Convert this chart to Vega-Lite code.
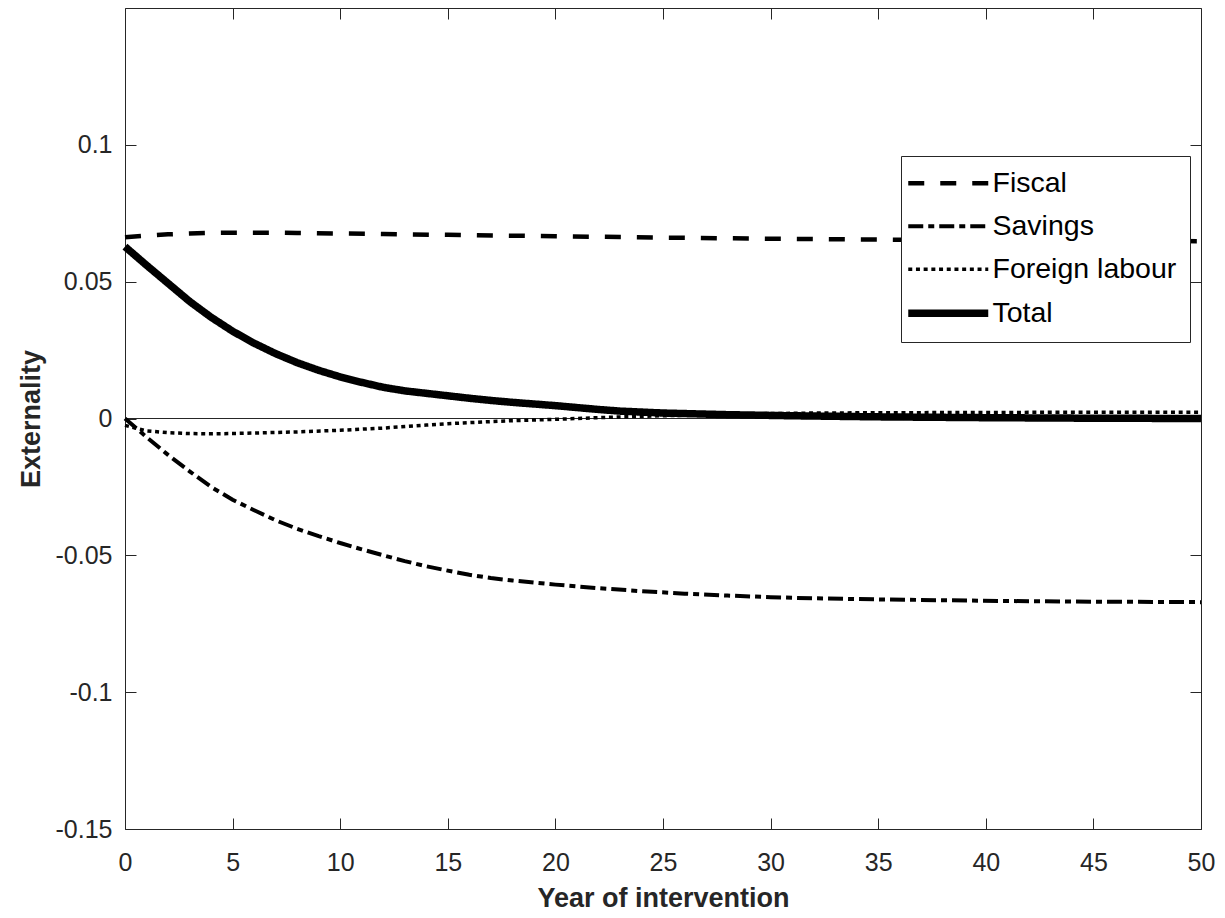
{
  "$schema": "https://vega.github.io/schema/vega-lite/v6.json",
  "width": 1076,
  "height": 821,
  "autosize": "none",
  "padding": {"left": 125, "top": 8, "right": 24, "bottom": 89},
  "background": "white",
  "config": {"view": {"stroke": null}, "font": "Liberation Sans"},
  "datasets": {
    "series": [
      {"year": 0, "value": 0.0662, "series": "Fiscal"},
      {"year": 1, "value": 0.0668, "series": "Fiscal"},
      {"year": 2, "value": 0.0673, "series": "Fiscal"},
      {"year": 3, "value": 0.0676, "series": "Fiscal"},
      {"year": 4, "value": 0.0678, "series": "Fiscal"},
      {"year": 5, "value": 0.0679, "series": "Fiscal"},
      {"year": 6, "value": 0.0679, "series": "Fiscal"},
      {"year": 7, "value": 0.0679, "series": "Fiscal"},
      {"year": 8, "value": 0.0678, "series": "Fiscal"},
      {"year": 10, "value": 0.0676, "series": "Fiscal"},
      {"year": 12, "value": 0.0674, "series": "Fiscal"},
      {"year": 15, "value": 0.0671, "series": "Fiscal"},
      {"year": 18, "value": 0.0668, "series": "Fiscal"},
      {"year": 20, "value": 0.0666, "series": "Fiscal"},
      {"year": 25, "value": 0.0661, "series": "Fiscal"},
      {"year": 30, "value": 0.0657, "series": "Fiscal"},
      {"year": 35, "value": 0.0654, "series": "Fiscal"},
      {"year": 40, "value": 0.0651, "series": "Fiscal"},
      {"year": 45, "value": 0.0649, "series": "Fiscal"},
      {"year": 50, "value": 0.0648, "series": "Fiscal"},
      {"year": 0, "value": 0.0, "series": "Savings"},
      {"year": 1, "value": -0.0068, "series": "Savings"},
      {"year": 2, "value": -0.0133, "series": "Savings"},
      {"year": 3, "value": -0.0193, "series": "Savings"},
      {"year": 4, "value": -0.025, "series": "Savings"},
      {"year": 5, "value": -0.0297, "series": "Savings"},
      {"year": 6, "value": -0.0335, "series": "Savings"},
      {"year": 7, "value": -0.0372, "series": "Savings"},
      {"year": 8, "value": -0.0403, "series": "Savings"},
      {"year": 9, "value": -0.043, "series": "Savings"},
      {"year": 10, "value": -0.0455, "series": "Savings"},
      {"year": 11, "value": -0.0478, "series": "Savings"},
      {"year": 12, "value": -0.05, "series": "Savings"},
      {"year": 13, "value": -0.0521, "series": "Savings"},
      {"year": 14, "value": -0.054, "series": "Savings"},
      {"year": 15, "value": -0.0556, "series": "Savings"},
      {"year": 16, "value": -0.0571, "series": "Savings"},
      {"year": 17, "value": -0.0583, "series": "Savings"},
      {"year": 18, "value": -0.0592, "series": "Savings"},
      {"year": 20, "value": -0.0607, "series": "Savings"},
      {"year": 22, "value": -0.062, "series": "Savings"},
      {"year": 24, "value": -0.0631, "series": "Savings"},
      {"year": 26, "value": -0.064, "series": "Savings"},
      {"year": 28, "value": -0.0647, "series": "Savings"},
      {"year": 30, "value": -0.0653, "series": "Savings"},
      {"year": 32, "value": -0.0657, "series": "Savings"},
      {"year": 35, "value": -0.0661, "series": "Savings"},
      {"year": 38, "value": -0.0664, "series": "Savings"},
      {"year": 41, "value": -0.0667, "series": "Savings"},
      {"year": 44, "value": -0.0669, "series": "Savings"},
      {"year": 47, "value": -0.067, "series": "Savings"},
      {"year": 50, "value": -0.0671, "series": "Savings"},
      {"year": 0, "value": -0.0025, "series": "Foreign labour"},
      {"year": 1, "value": -0.0045, "series": "Foreign labour"},
      {"year": 2, "value": -0.0052, "series": "Foreign labour"},
      {"year": 3, "value": -0.0055, "series": "Foreign labour"},
      {"year": 4, "value": -0.0056, "series": "Foreign labour"},
      {"year": 5, "value": -0.0055, "series": "Foreign labour"},
      {"year": 6, "value": -0.0053, "series": "Foreign labour"},
      {"year": 7, "value": -0.0051, "series": "Foreign labour"},
      {"year": 8, "value": -0.0049, "series": "Foreign labour"},
      {"year": 10, "value": -0.0043, "series": "Foreign labour"},
      {"year": 12, "value": -0.0035, "series": "Foreign labour"},
      {"year": 14, "value": -0.0024, "series": "Foreign labour"},
      {"year": 15, "value": -0.0019, "series": "Foreign labour"},
      {"year": 16, "value": -0.0015, "series": "Foreign labour"},
      {"year": 18, "value": -0.0008, "series": "Foreign labour"},
      {"year": 20, "value": -0.0003, "series": "Foreign labour"},
      {"year": 22, "value": 0.0003, "series": "Foreign labour"},
      {"year": 24, "value": 0.0008, "series": "Foreign labour"},
      {"year": 26, "value": 0.0012, "series": "Foreign labour"},
      {"year": 28, "value": 0.0016, "series": "Foreign labour"},
      {"year": 30, "value": 0.0018, "series": "Foreign labour"},
      {"year": 32, "value": 0.002, "series": "Foreign labour"},
      {"year": 35, "value": 0.0021, "series": "Foreign labour"},
      {"year": 40, "value": 0.0022, "series": "Foreign labour"},
      {"year": 45, "value": 0.0023, "series": "Foreign labour"},
      {"year": 50, "value": 0.0023, "series": "Foreign labour"},
      {"year": 0, "value": 0.0628, "series": "Total"},
      {"year": 1, "value": 0.056, "series": "Total"},
      {"year": 2, "value": 0.0494, "series": "Total"},
      {"year": 3, "value": 0.0428, "series": "Total"},
      {"year": 4, "value": 0.037, "series": "Total"},
      {"year": 5, "value": 0.0319, "series": "Total"},
      {"year": 6, "value": 0.0275, "series": "Total"},
      {"year": 7, "value": 0.0237, "series": "Total"},
      {"year": 8, "value": 0.0204, "series": "Total"},
      {"year": 9, "value": 0.0176, "series": "Total"},
      {"year": 10, "value": 0.0152, "series": "Total"},
      {"year": 11, "value": 0.0132, "series": "Total"},
      {"year": 12, "value": 0.0114, "series": "Total"},
      {"year": 13, "value": 0.0101, "series": "Total"},
      {"year": 14, "value": 0.0092, "series": "Total"},
      {"year": 15, "value": 0.0083, "series": "Total"},
      {"year": 16, "value": 0.0074, "series": "Total"},
      {"year": 17, "value": 0.0066, "series": "Total"},
      {"year": 18, "value": 0.0059, "series": "Total"},
      {"year": 20, "value": 0.0047, "series": "Total"},
      {"year": 22, "value": 0.0033, "series": "Total"},
      {"year": 23, "value": 0.0027, "series": "Total"},
      {"year": 25, "value": 0.002, "series": "Total"},
      {"year": 28, "value": 0.0014, "series": "Total"},
      {"year": 31, "value": 0.001, "series": "Total"},
      {"year": 35, "value": 0.0006, "series": "Total"},
      {"year": 40, "value": 0.0003, "series": "Total"},
      {"year": 45, "value": 0.0001, "series": "Total"},
      {"year": 50, "value": 0.0, "series": "Total"}
    ]
  },
  "layer": [
    {
      "data": {"values": [{}]},
      "mark": {"type": "rule", "color": "#262626", "strokeWidth": 1},
      "encoding": {
        "x": {
          "datum": 0,
          "type": "quantitative",
          "scale": {"domain": [0, 50], "nice": false, "zero": false},
          "axis": {
            "orient": "top", "title": null, "labels": false,
            "values": [0, 5, 10, 15, 20, 25, 30, 35, 40, 45, 50],
            "tickSize": -11, "tickColor": "#262626", "domainColor": "#262626",
            "tickWidth": 1, "domainWidth": 1, "grid": false
          }
        },
        "x2": {"datum": 50},
        "y": {
          "datum": 0,
          "type": "quantitative",
          "scale": {"domain": [-0.15, 0.15], "nice": false, "zero": false},
          "axis": {
            "orient": "right", "title": null, "labels": false,
            "values": [-0.15, -0.1, -0.05, 0, 0.05, 0.1],
            "tickSize": -11, "tickColor": "#262626", "domainColor": "#262626",
            "tickWidth": 1, "domainWidth": 1, "grid": false
          }
        }
      }
    },
    {
      "data": {"name": "series"},
      "mark": {"type": "line", "color": "black", "strokeCap": "butt"},
      "encoding": {
        "x": {
          "field": "year",
          "type": "quantitative",
          "axis": {
            "orient": "bottom", "title": "Year of intervention",
            "values": [0, 5, 10, 15, 20, 25, 30, 35, 40, 45, 50],
            "tickSize": -11, "tickColor": "#262626", "domainColor": "#262626",
            "tickWidth": 1, "domainWidth": 1, "grid": false,
            "labelFlush": false,
            "labelFont": "Liberation Sans", "labelFontSize": 25, "labelColor": "#262626",
            "labelPadding": 32,
            "titleFont": "Liberation Sans", "titleFontSize": 27, "titleFontWeight": "bold", "titleColor": "#262626",
            "titlePadding": 10
          }
        },
        "y": {
          "field": "value",
          "type": "quantitative",
          "axis": {
            "orient": "left", "title": "Externality",
            "values": [-0.15, -0.1, -0.05, 0, 0.05, 0.1],
            "labelExpr": "'' + datum.value",
            "tickSize": -11, "tickColor": "#262626", "domainColor": "#262626",
            "tickWidth": 1, "domainWidth": 1, "grid": false,
            "labelFlush": false,
            "labelFont": "Liberation Sans", "labelFontSize": 25, "labelColor": "#262626",
            "labelPadding": 24,
            "titleFont": "Liberation Sans", "titleFontSize": 27, "titleFontWeight": "bold", "titleColor": "#262626",
            "titlePadding": 10
          }
        },
        "strokeDash": {
          "field": "series",
          "type": "nominal",
          "scale": {
            "domain": ["Fiscal", "Savings", "Foreign labour", "Total"],
            "range": [[16, 16], [15, 5, 6, 5], [4, 3.7], [1, 0]]
          },
          "legend": {
            "title": null, "orient": "none", "legendX": 776, "legendY": 148,
            "symbolType": "M-4,0H4", "symbolSize": 400, "symbolStrokeColor": "black",
            "symbolOffset": 20,
            "labelFont": "Liberation Sans", "labelFontSize": 28.5, "labelColor": "black",
            "labelLimit": 400,
            "strokeColor": "#262626", "fillColor": "white", "padding": 13,
            "rowPadding": 14, "labelOffset": 30
          }
        },
        "strokeWidth": {
          "field": "series",
          "type": "nominal",
          "scale": {
            "type": "ordinal",
            "domain": ["Fiscal", "Savings", "Foreign labour", "Total"],
            "range": [4.5, 4, 3.5, 7.5]
          },
          "legend": {
            "title": null, "orient": "none", "legendX": 776, "legendY": 148,
            "symbolType": "M-4,0H4", "symbolSize": 400, "symbolStrokeColor": "black",
            "symbolOffset": 20,
            "labelFont": "Liberation Sans", "labelFontSize": 28.5, "labelColor": "black",
            "labelLimit": 400,
            "strokeColor": "#262626", "fillColor": "white", "padding": 13,
            "rowPadding": 14, "labelOffset": 30
          }
        }
      }
    }
  ],
  "resolve": {"axis": {"x": "independent", "y": "independent"}}
}
